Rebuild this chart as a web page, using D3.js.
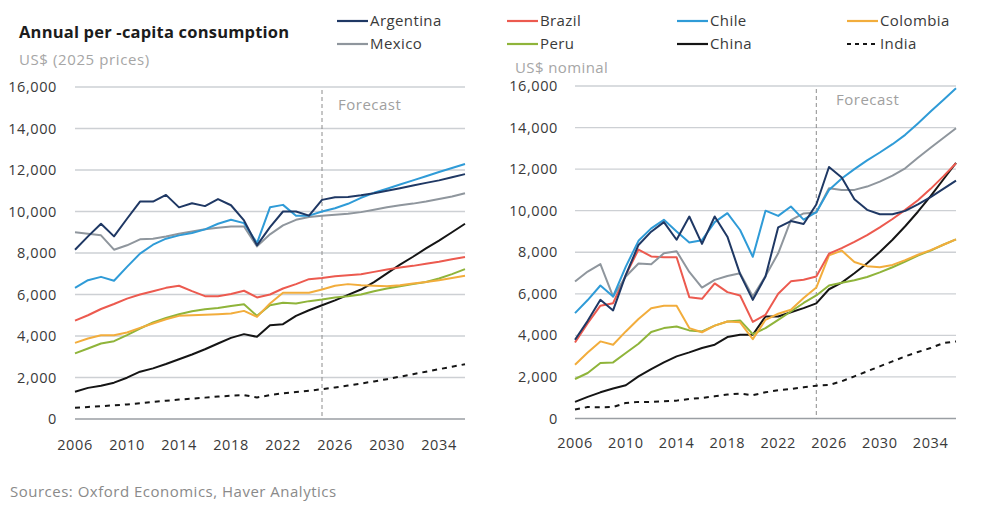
<!DOCTYPE html>
<html>
<head>
<meta charset="utf-8">
<script src="https://cdn.jsdelivr.net/npm/d3@7"></script>
<style>
  body { margin: 0; background: #fff; }
  svg text { font-family: "Open Sans", "Noto Sans", sans-serif; }
  .tick-text { font-size: 14.5px; fill: #3a3a3a; letter-spacing: 0.6px; }
  .legend-text { font-size: 15px; fill: #3a3a3a; letter-spacing: 0.4px; }
</style>
</head>
<body>
<svg class="svg" width="992" height="515"></svg>
<script>
var years = d3.range(2006, 2037);
var xTicks = [2006, 2010, 2014, 2018, 2022, 2026, 2030, 2034];
var yTicks = [0, 2000, 4000, 6000, 8000, 10000, 12000, 14000, 16000];
var forecastYear = 2025;

var countries = ['Argentina', 'Brazil', 'Chile', 'Colombia', 'Mexico', 'Peru', 'China', 'India'];
var colors = ['#1f3864', '#ec5a4f', '#2f9bd7', '#f2ad3c', '#8f969d', '#8fb43a', '#151515', '#151515'];

// left panel: US$ (2025 prices)
var realArgentina = [8160, 8800, 9410, 8800, 9650, 10480, 10480, 10800, 10200, 10400, 10260, 10600, 10300, 9570, 8370, 9250, 10000, 10000, 9800, 10560, 10690, 10700, 10780, 10880, 11000, 11120, 11250, 11380, 11500, 11650, 11800];
var realBrazil = [4740, 5000, 5300, 5540, 5800, 6000, 6160, 6320, 6420, 6160, 5920, 5920, 6020, 6180, 5860, 6000, 6290, 6500, 6740, 6800, 6880, 6930, 6980, 7090, 7200, 7300, 7380, 7480, 7580, 7700, 7810];
var realChile = [6320, 6690, 6850, 6660, 7330, 7970, 8400, 8690, 8850, 8960, 9140, 9410, 9600, 9440, 8480, 10200, 10320, 9800, 9800, 10000, 10160, 10370, 10660, 10900, 11100, 11300, 11500, 11700, 11900, 12100, 12290];
var realColombia = [3670, 3880, 4040, 4040, 4170, 4390, 4600, 4810, 4970, 5000, 5030, 5050, 5080, 5210, 4920, 5570, 6080, 6080, 6080, 6240, 6420, 6500, 6450, 6420, 6400, 6450, 6530, 6600, 6690, 6800, 6900];
var realMexico = [9000, 8930, 8850, 8160, 8370, 8660, 8690, 8800, 8930, 9040, 9140, 9220, 9280, 9280, 8320, 8900, 9330, 9600, 9730, 9800, 9840, 9890, 9970, 10080, 10200, 10300, 10380, 10480, 10600, 10720, 10880];
var realPeru = [3160, 3400, 3640, 3750, 4040, 4360, 4650, 4870, 5050, 5190, 5290, 5350, 5450, 5530, 4970, 5480, 5600, 5570, 5680, 5760, 5860, 5920, 6000, 6160, 6290, 6400, 6500, 6600, 6770, 6980, 7220];
var realChina = [1310, 1500, 1600, 1750, 1990, 2280, 2440, 2650, 2880, 3110, 3360, 3640, 3910, 4090, 3960, 4520, 4570, 4970, 5240, 5480, 5720, 5980, 6240, 6600, 7020, 7440, 7820, 8220, 8600, 9000, 9410];
var realIndia = [540, 580, 620, 660, 700, 760, 830, 880, 940, 980, 1030, 1080, 1120, 1150, 1040, 1150, 1240, 1300, 1360, 1440, 1520, 1610, 1710, 1810, 1920, 2040, 2160, 2280, 2400, 2520, 2640];

// right panel: US$ nominal
var nomArgentina = [3790, 4700, 5710, 5200, 6910, 8350, 8990, 9450, 8600, 9720, 8400, 9720, 8750, 6950, 5710, 6830, 9200, 9500, 9360, 10300, 12100, 11600, 10550, 10040, 9830, 9830, 9990, 10300, 10650, 11050, 11450];
var nomBrazil = [3660, 4590, 5430, 5550, 6900, 8130, 7800, 7760, 7760, 5840, 5760, 6500, 6080, 5920, 4650, 4990, 6000, 6600, 6680, 6830, 7930, 8200, 8500, 8820, 9200, 9600, 10040, 10500, 11050, 11650, 12280];
var nomChile = [5070, 5700, 6400, 5870, 7310, 8550, 9150, 9560, 9000, 8470, 8580, 9450, 9880, 9070, 7780, 10000, 9750, 10200, 9570, 9930, 11000, 11550, 12000, 12420, 12800, 13200, 13650, 14200, 14770, 15330, 15890];
var nomColombia = [2590, 3180, 3710, 3550, 4190, 4790, 5310, 5430, 5430, 4350, 4150, 4470, 4670, 4630, 3820, 4750, 5040, 5230, 5800, 6300, 7850, 8080, 7530, 7330, 7280, 7390, 7620, 7880, 8100, 8360, 8620];
var nomMexico = [6590, 7070, 7430, 5870, 6830, 7460, 7420, 7950, 8050, 7050, 6300, 6670, 6860, 6990, 5870, 6860, 7950, 9550, 9870, 9910, 11080, 11000, 11000, 11160, 11400, 11690, 12040, 12550, 13030, 13500, 13970];
var nomPeru = [1900, 2190, 2670, 2700, 3150, 3600, 4160, 4350, 4430, 4240, 4190, 4470, 4670, 4720, 4060, 4350, 4750, 5150, 5560, 5920, 6400, 6530, 6650, 6810, 7030, 7280, 7550, 7840, 8080, 8360, 8620];
var nomChina = [800, 1040, 1260, 1440, 1600, 2030, 2380, 2700, 2990, 3180, 3390, 3550, 3920, 4030, 4030, 4910, 4910, 5110, 5310, 5540, 6220, 6540, 6990, 7470, 8010, 8600, 9250, 9950, 10700, 11500, 12300];
var nomIndia = [430, 550, 540, 550, 750, 800, 800, 830, 860, 940, 990, 1070, 1150, 1200, 1120, 1260, 1360, 1420, 1500, 1580, 1610, 1790, 2030, 2270, 2510, 2750, 2990, 3200, 3390, 3630, 3710];

var realSeries = [realArgentina, realBrazil, realChile, realColombia, realMexico, realPeru, realChina, realIndia];
var nomSeries = [nomArgentina, nomBrazil, nomChile, nomColombia, nomMexico, nomPeru, nomChina, nomIndia];

var svg = d3.select(".svg");

// title block
svg.append("text").attr("x", 19).attr("y", 38).text("Annual per -capita consumption")
    .style("font-size", "16.5px").style("font-weight", "700").style("fill", "#1c1c1c").style("letter-spacing", "0.2px");
svg.append("text").attr("x", 19).attr("y", 65).text("US$ (2025 prices)")
    .style("font-size", "15px").style("fill", "#a6a6a6").style("letter-spacing", "0.6px");
svg.append("text").attr("x", 515).attr("y", 73).text("US$ nominal")
    .style("font-size", "15px").style("fill", "#a6a6a6").style("letter-spacing", "0.4px");
svg.append("text").attr("x", 10).attr("y", 497).text("Sources: Oxford Economics, Haver Analytics")
    .style("font-size", "15px").style("fill", "#8a8a8a").style("letter-spacing", "0.5px");

// legend: 4 columns x 2 rows
var legendX = [337, 507, 677, 847], legendY = [21, 44];
var legend = svg.append("g").attr("class", "legend");
countries.forEach(function(c, i){
    let lx = legendX[i % 4], ly = legendY[Math.floor(i / 4)];
    let g = legend.append("g").attr("transform", "translate(" + lx + "," + ly + ")");
    g.append("line").attr("x1", 0).attr("x2", 31).attr("y1", 0).attr("y2", 0)
        .attr("stroke", colors[i]).attr("stroke-width", 2.2)
        .attr("stroke-dasharray", c == 'India' ? "4,4" : null);
    g.append("text").attr("x", 33).attr("y", 5).attr("class", "legend-text").text(c);
});

function drawPanel(series, x0, x1, yTop, yBase, labelX, xLabelY, forecastTextX, forecastTextY){
    var x = d3.scaleLinear().domain([2006, 2036]).range([x0, x1]);
    var y = d3.scaleLinear().domain([0, 16000]).range([yBase, yTop]);
    var p = svg.append("g");

    // gridlines
    p.append("g").selectAll("line").data(yTicks.slice(1)).enter().append("line")
        .attr("x1", x0).attr("x2", x1)
        .attr("y1", function(d){ return y(d); }).attr("y2", function(d){ return y(d); })
        .attr("stroke", "#cdd0d4").attr("stroke-width", 1.3);
    p.append("line").attr("x1", x0).attr("x2", x1).attr("y1", y(0)).attr("y2", y(0))
        .attr("stroke", "#9a9ea3").attr("stroke-width", 1.6);

    // y labels
    p.append("g").selectAll("text").data(yTicks).enter().append("text")
        .attr("class", "tick-text").attr("x", labelX).attr("y", function(d){ return y(d) + 5; })
        .attr("text-anchor", "end").text(d3.format(","));
    // x labels
    p.append("g").selectAll("text").data(xTicks).enter().append("text")
        .attr("class", "tick-text").attr("x", function(d){ return x(d); }).attr("y", xLabelY)
        .attr("text-anchor", "middle").text(function(d){ return d; });

    // forecast marker
    p.append("line").attr("x1", x(forecastYear)).attr("x2", x(forecastYear))
        .attr("y1", yTop + 3).attr("y2", yBase)
        .attr("stroke", "#8c8c8c").attr("stroke-width", 1).attr("stroke-dasharray", "4,3");
    p.append("text").attr("x", forecastTextX).attr("y", forecastTextY).text("Forecast")
        .style("font-size", "15px").style("fill", "#a0a0a0").style("letter-spacing", "0.5px");

    var line = d3.line().x(function(d, i){ return x(years[i]); }).y(function(d){ return y(d); });
    // draw order: India, China, Peru, Colombia, Brazil, Mexico, Chile, Argentina
    var order = [7, 6, 5, 3, 1, 4, 2, 0];
    p.append("g").selectAll("path").data(order).enter().append("path")
        .attr("d", function(i){ return line(series[i]); })
        .attr("fill", "none")
        .attr("stroke", function(i){ return colors[i]; })
        .attr("stroke-width", 2)
        .attr("stroke-linejoin", "round")
        .attr("stroke-dasharray", function(i){ return countries[i] == 'India' ? "5,5" : null; });
}

drawPanel(realSeries, 75, 465, 87, 419, 57, 450, 338, 110);
drawPanel(nomSeries, 575, 956, 86, 418.5, 558, 448, 836, 105);
</script>
</body>
</html>
